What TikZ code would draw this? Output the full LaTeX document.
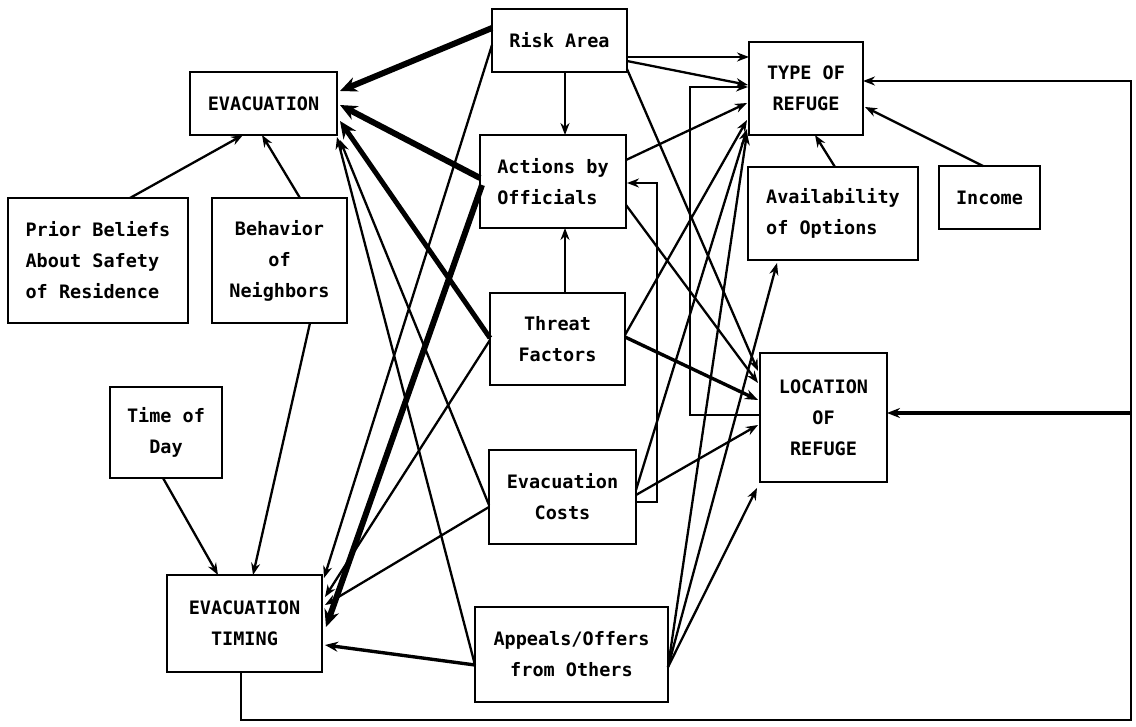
\documentclass[tikz,border=0pt]{standalone}
\usepackage{fontspec}
\setmainfont{DejaVu Sans Mono}
\usetikzlibrary{arrows.meta,calc}
\begin{document}
\begin{tikzpicture}[x=1pt,y=-1pt,
 box/.style={draw,line width=2.4pt,inner sep=0pt,outer sep=0pt,align=center,font=\fontsize{18.5}{31}\selectfont\bfseries},
 ar/.style={-{Stealth[length=12pt,width=9pt]},line width=2.3pt},
 thk/.style={-{Stealth[length=17pt,width=15pt]},line width=6pt},
 med/.style={-{Stealth[length=13pt,width=10pt]},line width=3.4pt}]
\useasboundingbox[fill=white] (0,0) rectangle (1136,727);
% nodes
\node[box,minimum width=135pt,minimum height=63pt] (risk) at (559.5,40.5) {Risk Area};
\node[box,minimum width=147pt,minimum height=63pt] (evac) at (263.5,103.5) {EVACUATION};
\node[box,minimum width=146pt,minimum height=93pt,align=left] (act) at (553,181.5) {Actions by\\Officials};
\node[box,minimum width=114pt,minimum height=93pt] (type) at (806,88.5) {TYPE OF\\REFUGE};
\node[box,minimum width=170pt,minimum height=93pt,align=left] (avail) at (833,213.5) {Availability\\of Options};
\node[box,minimum width=101pt,minimum height=63pt] (income) at (989.5,197.5) {Income};
\node[box,minimum width=180pt,minimum height=125pt,align=left] (prior) at (98,260.5) {Prior Beliefs\\About Safety\\of Residence};
\node[box,minimum width=135pt,minimum height=125pt] (behav) at (279.5,260.5) {Behavior\\of\\Neighbors};
\node[box,minimum width=135pt,minimum height=92pt] (threat) at (557.5,339) {Threat\\Factors};
\node[box,minimum width=127pt,minimum height=129pt] (loc) at (823.5,417.5) {LOCATION\\OF\\REFUGE};
\node[box,minimum width=112pt,minimum height=91pt] (tod) at (166,432.5) {Time of\\Day};
\node[box,minimum width=147pt,minimum height=94pt] (costs) at (562.5,497) {Evacuation\\Costs};
\node[box,minimum width=155pt,minimum height=97pt] (timing) at (244.5,623.5) {EVACUATION\\TIMING};
\node[box,minimum width=193pt,minimum height=95pt] (appeals) at (571.5,654.5) {Appeals/Offers\\from Others};
% free corners of the feedback line
\coordinate (fbR) at (1131,720);
\coordinate (fbT) at (1131,81);
\coordinate (fbL) at (1131,413);
% risk area
\draw[thk] ($(risk.north west)+(0,19)$) -- ($(evac.north east)+(3,19)$);
\draw[ar] ($(risk.south west)+(73,0)$) -- ($(act.north west)+(85,0)$);
\draw[ar] ($(risk.north east)+(0,48)$) -- ($(type.north west)+(0,15)$);
\draw[ar] ($(risk.north east)+(0,52)$) -- ($(type.north west)+(-1,43)$);
\draw[ar] ($(risk.south east)+(0,-3)$) -- ($(loc.north west)+(-2,18)$);
\draw[ar] ($(risk.north west)+(0,36)$) -- ($(timing.north east)+(2,3)$);
% actions by officials
\draw[thk] ($(act.north west)+(0,43)$) -- ($(evac.north east)+(3,33)$);
\draw[thk] ($(act.north west)+(2,50)$) -- ($(timing.north east)+(4,52)$);
\draw[ar] ($(act.north east)+(0,25)$) -- ($(type.north west)+(-2,61)$);
\draw[ar] ($(act.north east)+(0,70)$) -- ($(loc.north west)+(-2,30)$);
% threat factors
\draw[ar] ($(threat.north west)+(75,0)$) -- ($(act.south west)+(85,0)$);
\draw[thk,line width=5pt] ($(threat.north west)+(0,45)$) -- ($(evac.south east)+(3,-14)$);
\draw[ar] ($(threat.north west)+(0,47)$) -- ($(timing.north east)+(3,22)$);
\draw[ar] ($(threat.north east)+(0,42)$) -- ($(type.north west)+(-2,78)$);
\draw[med] ($(threat.north east)+(0,44)$) -- ($(loc.north west)+(-2,47)$);
% evacuation costs
\draw[ar] ($(costs.north east)+(0,52)$) -- ++(21,0) |- ($(act.north east)+(1,48)$);
\draw[ar] ($(costs.north east)+(0,40)$) -- ($(type.south west)+(-2,-6)$);
\draw[ar] ($(costs.north east)+(0,45)$) -- ($(loc.north west)+(-2,72)$);
\draw[ar] ($(costs.north west)+(0,55)$) -- ($(evac.south east)+(3,5)$);
\draw[ar] ($(costs.north west)+(0,57)$) -- ($(timing.north east)+(3,30)$);
% appeals
\draw[ar] ($(appeals.north west)+(0,58)$) -- ($(evac.south east)+(0,2)$);
\draw[med] ($(appeals.north west)+(0,58)$) -- ($(timing.north east)+(3,70)$);
\draw[ar] ($(appeals.north east)+(0,60)$) -- ($(type.south west)+(-2,-2)$);
\draw[ar] ($(appeals.north east)+(0,60)$) -- ($(avail.south west)+(29,3)$);
\draw[ar] ($(appeals.north east)+(0,60)$) -- ($(loc.south west)+(-3,6)$);
% left side
\draw[ar] ($(prior.north west)+(122,0)$) -- ($(evac.south west)+(53,0)$);
\draw[ar] ($(behav.north west)+(88,0)$) -- ($(evac.south west)+(72,0)$);
\draw[ar] ($(behav.south west)+(98,0)$) -- ($(timing.north west)+(86,0)$);
\draw[ar] ($(tod.south west)+(53,0)$) -- ($(timing.north west)+(51,0)$);
% right side
\draw[ar] ($(avail.north west)+(87,0)$) -- ($(type.south west)+(66,0)$);
\draw[ar] ($(income.north west)+(44,0)$) -- ($(type.north east)+(2,65)$);
\draw[ar] ($(loc.north west)+(0,62)$) -- ++(-70,0) |- ($(type.north west)+(-1,45)$);
% feedback from timing
\draw[ar] ($(timing.south west)+(74,0)$) |- (fbR) -- (fbT) -- (type.east |- fbT);
\draw[med] (fbL) -- (loc.east |- fbL);
\end{tikzpicture}
\end{document}
